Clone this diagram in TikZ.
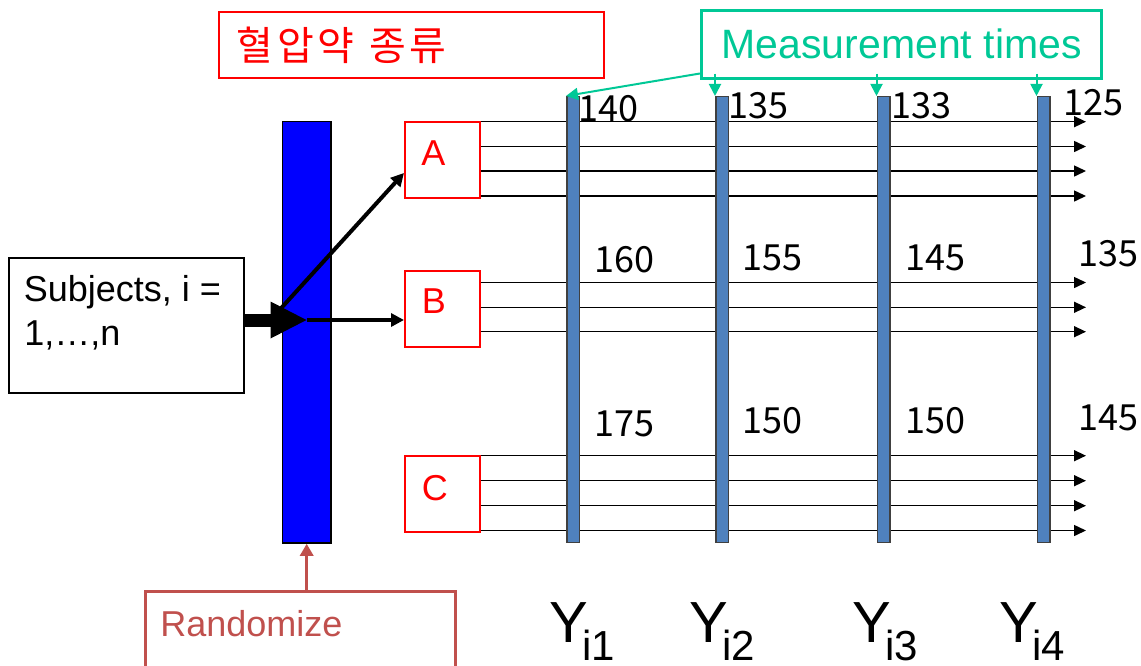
\documentclass[tikz,border=0pt]{standalone}
\usepackage{fontspec}
\setmainfont{Liberation Sans}
\newfontfamily\kr{Noto Sans CJK KR}
\usetikzlibrary{arrows.meta,calc}
\definecolor{teal2}{RGB}{0,200,150}
\definecolor{barblue}{RGB}{79,129,189}
\definecolor{randred}{RGB}{192,80,77}
\begin{document}
\begin{tikzpicture}[x=0.5pt,y=-0.5pt,
  box/.style={draw, inner sep=0pt, line width=1pt},
  redbox/.style={box, draw=red, minimum width=37.5pt, minimum height=38pt},
  bar/.style={draw=black!75, fill=barblue, line width=0.75pt, minimum width=6.25pt, minimum height=223pt, inner sep=0pt},
  lbl/.style={inner sep=0pt, anchor=base west, font=\fontsize{18pt}{21pt}\selectfont},
  num/.style={lbl, font=\kr\fontsize{18pt}{21pt}\selectfont},
  hline/.style={line width=0.75pt, -{Triangle[length=6pt 0 0,width=5.5pt 0 0]}},
  mtarrow/.style={teal2, line width=1pt, -{Triangle[length=6pt 0 0,width=6pt 0 0]}},
  blk/.style={line width=2pt, -{Triangle[length=6.5pt 0 0,width=6.5pt 0 0]}},
  ylab/.style={lbl, font=\fontsize{29pt}{32pt}\selectfont}
]
\useasboundingbox (0,0) rectangle (1141,665);
\clip (0,0) rectangle (1141,665);

% treatment boxes
\node[redbox] (A) at (442.5,159.7) {};
\node[redbox] (B) at (442.5,308.5) {};
\node[redbox] (C) at (442.5,493.5) {};
\node[lbl, red] (Al) at (421,165.7) {A};
\node[lbl, red] (Bl) at (421.5,313.3) {B};
\node[lbl, red] (Cl) at (421.5,500) {C};

% subject lines
\coordinate (lend) at (1086,0);
\foreach \y in {121.7,146.5,171,196} \draw[hline] (A.east |- 0,\y) -- (lend |- 0,\y);
\foreach \y in {282.5,307.3,331.7} \draw[hline] (B.east |- 0,\y) -- (lend |- 0,\y);
\foreach \y in {455.7,480.7,505.7,530.5} \draw[hline] (C.east |- 0,\y) -- (lend |- 0,\y);

% measurement bars
\foreach \n/\x in {1/573,2/722,3/883.5,4/1043.5} \node[bar] (bar\n) at (\x,319.7) {};

% numbers
\node[num] (n11) at (578,121) {140};
\node[num] (n12) at (728,118) {135};
\node[num] (n13) at (891,118) {133};
\node[num] (n14) at (1063,115.7) {125};
\node[num] (n21) at (594,272.7) {160};
\node[num] (n22) at (742,270) {155};
\node[num] (n23) at (905,270) {145};
\node[num] (n24) at (1078,266.7) {135};
\node[num] (n31) at (594,436.7) {175};
\node[num] (n32) at (742,433) {150};
\node[num] (n33) at (905,433) {150};
\node[num] (n34) at (1078,430) {145};

% measurement times
\node[draw=teal2, line width=1.5pt, inner sep=0pt, minimum width=200.25pt, minimum height=34pt, text=teal2, font=\fontsize{20.5pt}{24pt}\selectfont] (mt) at (901.7,44) {Measurement times};
\coordinate (mtfrom) at ($(mt.south west)+(0,3pt)$);
\draw[mtarrow] (mtfrom) -- (bar1.north west);
\foreach \n in {2,3,4} \draw[mtarrow] (bar\n.north west |- mtfrom) -- (bar\n.north west);

% Korean title
\node[box, draw=red, minimum width=192.35pt, minimum height=33.3pt] (kbox) at (411.65,45) {};
\node[lbl, red, font=\kr\fontsize{20pt}{24pt}\selectfont] (ktxt) at (236.5,60.5) {혈\kern1.8pt 압\kern1.8pt 약\hspace{3pt} 종\kern1.8pt 류};

% subjects
\node[box, minimum width=117.5pt, minimum height=67.8pt] (subj) at (126.5,325.5) {};
\node[lbl] (s1) at (23.5,301.7) {Subjects, i =};
\node[lbl] (s2) at (24,345) {1,…,n};

% randomize bar
\node[draw=black, fill=blue, line width=0.75pt, minimum width=24.25pt, minimum height=210.7pt, inner sep=0pt] (rbar) at (306.7,332.3) {};

\coordinate (split) at (306.5,320);
\coordinate (dstart) at (281,308.3);
\draw[blk] (split) -- (split -| B.west);
\draw[blk] (dstart) -- ($(A.south west)!0.33!(A.north west)$);
\draw[line width=6.5pt, -{Triangle[length=18pt 0 0,width=18.5pt 0 0,line width=0pt]}] (subj.east |- split) -- (split);

% randomize box
\node[box, draw=randred, line width=1.5pt, minimum width=155pt, minimum height=64.15pt] (rbox) at (300,655.85) {};
\node[lbl, randred] (rtxt) at (160,636) {Randomize};
\draw[randred, line width=1.75pt, -{Triangle[length=6pt 0 0,width=6.5pt 0 0]}] (rbar.south |- rbox.north) -- (rbar.south);

% Y labels
\node[ylab] (y1) at (549,642.7) {Y\kern-3pt\raisebox{-9pt}{\fontsize{21pt}{24pt}\selectfont i1}};
\node[ylab] (y2) at (689,642.7) {Y\kern-3pt\raisebox{-9pt}{\fontsize{21pt}{24pt}\selectfont i2}};
\node[ylab] (y3) at (852,642.7) {Y\kern-3pt\raisebox{-9pt}{\fontsize{21pt}{24pt}\selectfont i3}};
\node[ylab] (y4) at (999,642.7) {Y\kern-3pt\raisebox{-9pt}{\fontsize{21pt}{24pt}\selectfont i4}};
\end{tikzpicture}
\end{document}
